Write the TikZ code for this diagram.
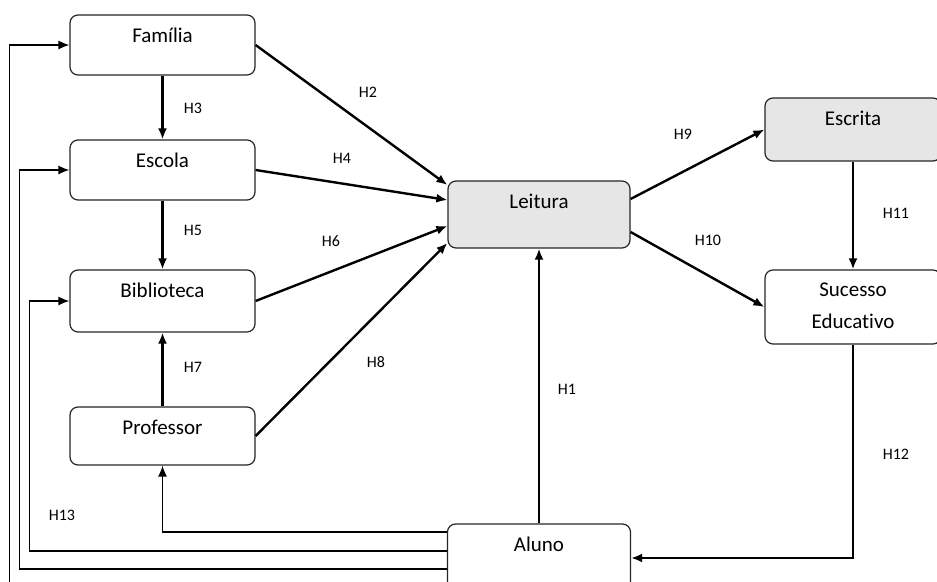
\documentclass[tikz,border=0pt]{standalone}
\usepackage{fontspec}
\setmainfont{Carlito}[Ligatures=NoCommon]
\usepackage{tikz}
\usetikzlibrary{arrows.meta, positioning}
\definecolor{Cinza1}{RGB}{230,230,230}

\begin{document}
\begin{tikzpicture}[x=0.5pt, y=-0.5pt,
  caixa/.style={rectangle, rounded corners=4pt,
                draw=black!85, fill=#1, line width=0.6pt,
                minimum width=92.5pt, inner sep=0pt,
                text height=14pt, text depth=16pt, align=center,
                font=\fontsize{10.5}{16}\selectfont},
  seta/.style={-{Latex[length=5.5pt, width=4.5pt]}, line width=1.2pt},
  retorno/.style={-{Latex[length=5.5pt, width=4.5pt]}, line width=0.7pt},
  hip/.style={font=\fontsize{8}{10}\selectfont, inner sep=0pt}
]
\clip (0,0) rectangle (937,582);

%% Blocos da esquerda
\node[caixa=white] (familia) at (162.5,45) {Família};
\node[caixa=white] (escola) at (162.5,170) {Escola};
\node[caixa=white, text depth=17pt] (biblioteca) at (162.5,301) {Biblioteca};
\node[caixa=white, text depth=15pt] (professor) at (162.5,436) {Professor};

%% Leitura e Aluno
\node[caixa=Cinza1, minimum width=91pt, text depth=19.5pt] (leitura) at (539,214.5) {Leitura};
\node[caixa=white, minimum width=91.5pt, text depth=20pt] (aluno) at (539,558) {Aluno};

%% Blocos da direita
\node[caixa=Cinza1, minimum width=88pt, text depth=17.5pt] (escrita) at (853,129.5) {Escrita};
\node[caixa=white, minimum width=88pt, text height=29.5pt, text depth=7.5pt] (sucesso) at (853,307) {Sucesso\\Educativo};

%% Hipoteses
\node[hip] (h1) at (567,389) {H1};
\node[hip] (h2) at (368,92) {H2};
\node[hip] (h3) at (193,108) {H3};
\node[hip] (h4) at (342,158) {H4};
\node[hip] (h5) at (193,230) {H5};
\node[hip] (h6) at (331,241) {H6};
\node[hip] (h7) at (193,367) {H7};
\node[hip] (h8) at (376,362) {H8};
\node[hip] (h9) at (683,134) {H9};
\node[hip] (h10) at (708,240) {H10};
\node[hip] (h11) at (896,213) {H11};
\node[hip] (h12) at (896,454) {H12};
\node[hip] (h13) at (62,515) {H13};

\draw[seta] (aluno.north) -- (leitura.south);
\draw[seta] (familia.east) -- ([yshift=14.75pt]leitura.west);
\draw[seta] (familia.south) -- (escola.north);
\draw[seta] (escola.east) -- ([yshift=7.25pt]leitura.west);
\draw[seta] (escola.south) -- (biblioteca.north);
\draw[seta] (biblioteca.east) -- ([yshift=-5.75pt]leitura.west);
\draw[seta] (professor.north) -- (biblioteca.south);
\draw[seta] (professor.east) -- ([yshift=-14.25pt]leitura.west);
\draw[seta] ([yshift=7.75pt]leitura.east) -- (escrita.west);
\draw[seta] ([yshift=-8.75pt]leitura.east) -- (sucesso.west);
\draw[seta] (escrita.south) -- (sucesso.north);
\draw[seta] (sucesso.south) |- (aluno.east);

%% H13: retorno do Aluno
\draw[retorno] ([yshift=13pt]aluno.west) -| (professor.south);
\draw[retorno] ([yshift=3.5pt]aluno.west) -| ([xshift=-20pt]biblioteca.west) -- (biblioteca.west);
\draw[retorno] ([yshift=-5.5pt]aluno.west) -| ([xshift=-25pt]escola.west) -- (escola.west);
\draw[retorno] ([yshift=-13.5pt]aluno.west) -| ([xshift=-30pt]familia.west) -- (familia.west);

\end{tikzpicture}
\end{document}
